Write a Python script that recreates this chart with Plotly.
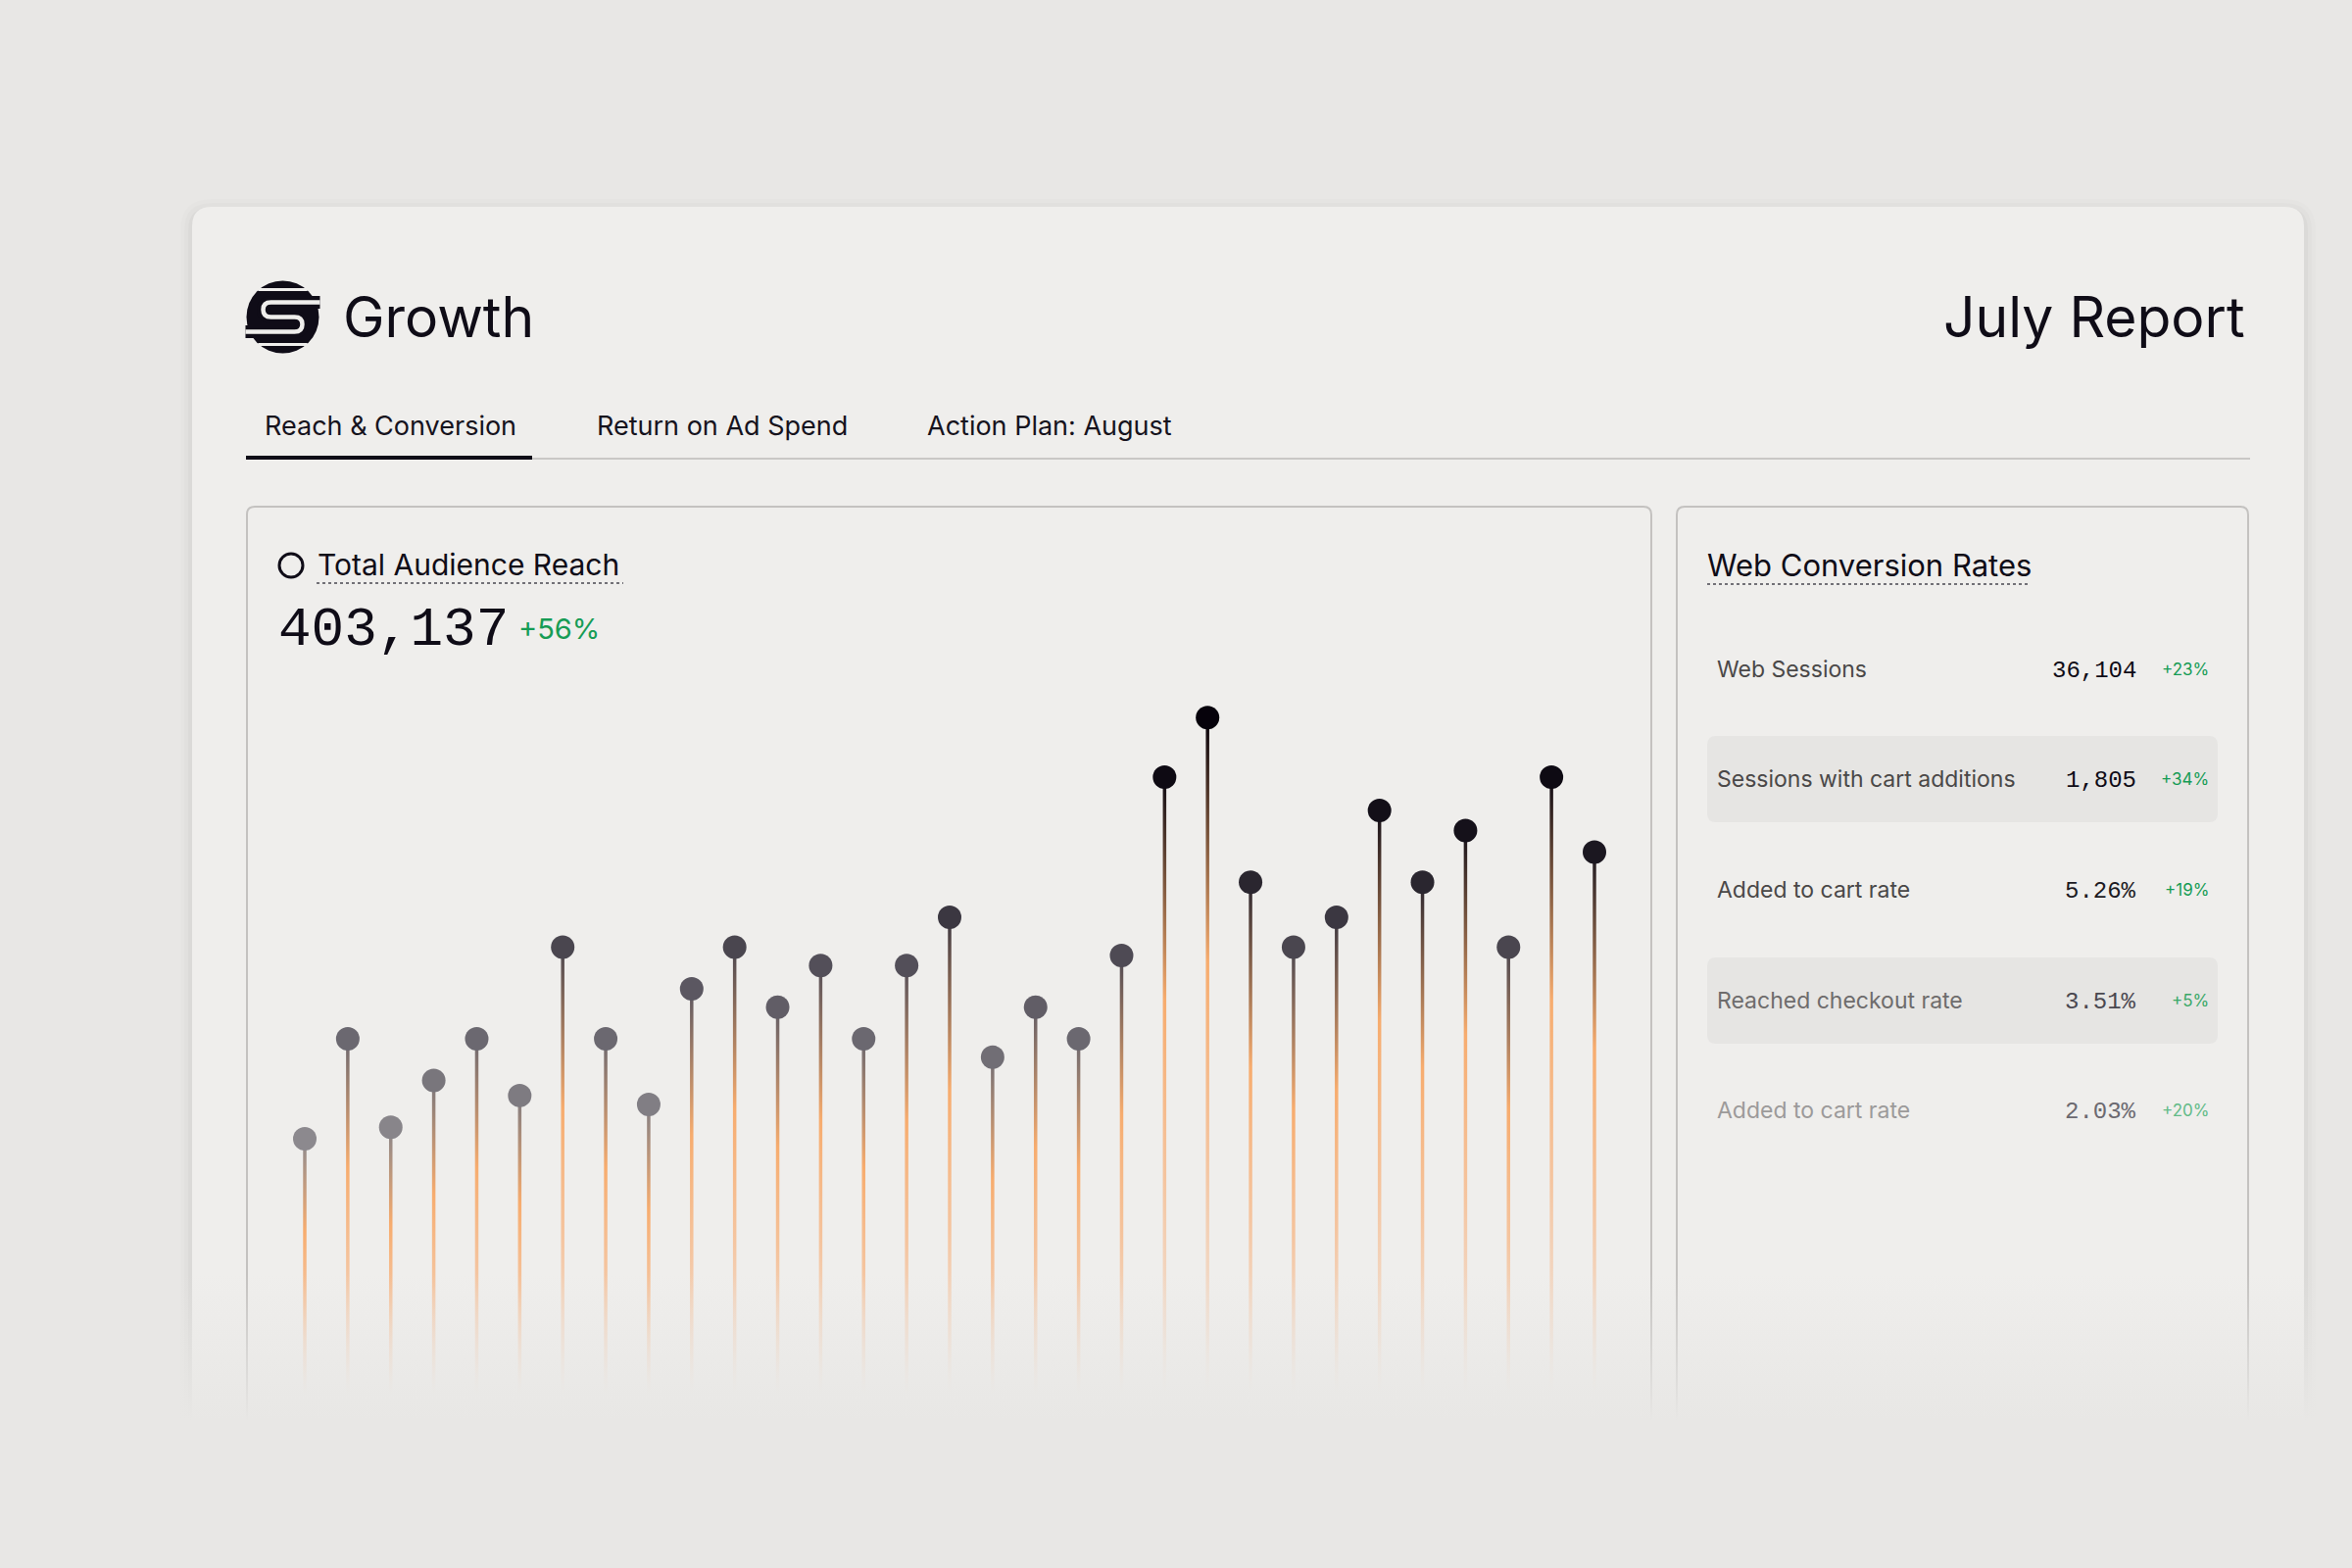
import plotly.graph_objects as go
from plotly.colors import sample_colorscale

W, H = 2400, 1600

# daily audience reach for July
days = list(range(1, 32))
reach = [7700, 10700, 8050, 9450, 10700, 9000, 13450, 10700, 8730, 12200,
         13450, 11650, 12900, 10700, 12900, 14350, 10150, 11650, 10700, 13200,
         18550, 20340, 15400, 13450, 14350, 17550, 15400, 16950, 13450, 18550,
         16300]

total_reach = "403,137"
total_delta = "+56%"

tabs = ["Reach & Conversion", "Return on Ad Spend", "Action Plan: August"]

metric_labels = ["Web Sessions", "Sessions with cart additions", "Added to cart rate",
                 "Reached checkout rate", "Added to cart rate"]
metric_values = ["36,104", "1,805", "5.26%", "3.51%", "2.03%"]
metric_deltas = ["+23%", "+34%", "+19%", "+5%", "+20%"]

# colours / fonts
BG = "#e8e7e5"
CARD = "#efeeec"
INK = "#0f0c17"
GREEN = "#169c55"
SANS = "Inter"
MONO = "Liberation Mono"
DOT_SCALE = [[0, "rgb(140,137,142)"], [0.4, "rgb(85,81,91)"],
             [0.7, "rgb(23,19,28)"], [1, "rgb(6,2,11)"]]


def px(x):
    return x / W


def py(y):
    return 1 - y / H


def pt(x, y):
    return f"{px(x):.5f},{py(y):.5f}"


def round_rect(x0, y0, x1, y1, r):
    return (f"M {pt(x0 + r, y0)} L {pt(x1 - r, y0)} Q {pt(x1, y0)} {pt(x1, y0 + r)} "
            f"L {pt(x1, y1 - r)} Q {pt(x1, y1)} {pt(x1 - r, y1)} "
            f"L {pt(x0 + r, y1)} Q {pt(x0, y1)} {pt(x0, y1 - r)} "
            f"L {pt(x0, y0 + r)} Q {pt(x0, y0)} {pt(x0 + r, y0)} Z")


shapes = []
annotations = []


def label(x, y, text, size, color=INK, anchor="left", family=SANS, weight=400):
    annotations.append(dict(
        x=px(x), y=py(y), xref="paper", yref="paper", text=text, showarrow=False,
        xanchor=anchor, yanchor="middle",
        font=dict(family=family, size=size, color=color, weight=weight)))


def hline(x0, x1, y, color, width, dash="solid"):
    shapes.append(dict(type="line", xref="paper", yref="paper",
                       x0=px(x0), x1=px(x1), y0=py(y), y1=py(y),
                       line=dict(color=color, width=width, dash=dash)))


# card with a soft shadow
for grow, alpha in [(12, 0.012), (8, 0.016), (4, 0.022)]:
    shapes.append(dict(type="path", xref="paper", yref="paper", layer="below",
                       path=round_rect(196 - grow, 211 - grow + 4, 2351 + grow, 1600, 20 + grow),
                       fillcolor=f"rgba(0,0,0,{alpha})", line=dict(width=0)))
shapes.append(dict(type="path", xref="paper", yref="paper", layer="below",
                   path=round_rect(196, 211, 2351, 1600, 20),
                   fillcolor=CARD, line=dict(width=0)))

# logo: dark disc cut by light stripes and an S channel
cx, cy, R = 288.5, 323.5, 37
shapes.append(dict(type="circle", xref="paper", yref="paper",
                   x0=px(cx - R), x1=px(cx + R), y0=py(cy + R), y1=py(cy - R),
                   fillcolor=INK, line=dict(width=0)))
for dy in (-28, 28):
    hw = (R ** 2 - dy ** 2) ** 0.5
    hline(cx - hw - 1, cx + hw + 1, cy + dy, CARD, 3)
s_path = (f"M {pt(cx + 38, cy - 15)} L {pt(cx - 12, cy - 15)} "
          f"Q {pt(cx - 20, cy - 15)} {pt(cx - 20, cy - 7.5)} Q {pt(cx - 20, cy)} {pt(cx - 12, cy)} "
          f"L {pt(cx + 12, cy)} "
          f"Q {pt(cx + 20, cy)} {pt(cx + 20, cy + 7.5)} Q {pt(cx + 20, cy + 15)} {pt(cx + 12, cy + 15)} "
          f"L {pt(cx - 38, cy + 15)}")
shapes.append(dict(type="path", xref="paper", yref="paper", path=s_path,
                   line=dict(color=INK, width=13)))
shapes.append(dict(type="path", xref="paper", yref="paper", path=s_path,
                   line=dict(color=CARD, width=4.5)))

label(348, 323, "Growth", 57)
label(2293, 323, "July Report", 57, anchor="right")

# tabs
for tx, t in zip([268, 607, 944], tabs):
    label(tx, 434, t, 27, color="#16131d")
hline(251, 2296, 468, "#c9c7c5", 2)
hline(251, 543, 467, INK, 4)

# panels
shapes.append(dict(type="path", xref="paper", yref="paper", layer="below",
                   path=round_rect(252, 517, 1685, 1560, 8),
                   fillcolor=CARD, line=dict(color="#c4c2c0", width=2)))
shapes.append(dict(type="path", xref="paper", yref="paper", layer="below",
                   path=round_rect(1711, 517, 2294, 1560, 8),
                   fillcolor=CARD, line=dict(color="#c4c2c0", width=2)))

# left panel header
shapes.append(dict(type="circle", xref="paper", yref="paper",
                   x0=px(297 - 12), x1=px(297 + 12), y0=py(577 + 12), y1=py(577 - 12),
                   line=dict(color=INK, width=3)))
label(322, 576, "Total Audience Reach", 30)
hline(323, 636, 595, "#4a4850", 1.5, "dot")
label(282, 643, total_reach, 56, family=MONO)
label(527, 641, total_delta, 29, color=GREEN)

# right panel
label(1740, 576, "Web Conversion Rates", 31)
hline(1742, 2069, 596, "#4a4850", 1.5, "dot")
row_y = [683, 795, 908, 1021, 1133]
for i in (1, 3):
    shapes.append(dict(type="path", xref="paper", yref="paper", layer="below",
                       path=round_rect(1742, row_y[i] - 44, 2263, row_y[i] + 44, 9),
                       fillcolor="#e6e5e3", line=dict(width=0)))
lab_col = ["#4a4848", "#4a4848", "#4a4848", "#6e6c6c", "#9c9a9a"]
val_col = [INK, INK, "#1c1a22", "#4a4850", "#6b6970"]
pct_col = [GREEN, GREEN, GREEN, "#3aa868", "#62bb88"]
for i in range(len(metric_labels)):
    label(1750, row_y[i], metric_labels[i], 23, color=lab_col[i])
    label(2182, row_y[i] + 1.5, metric_values[i], 24, color=val_col[i], anchor="right", family=MONO)
    label(2256, row_y[i], metric_deltas[i], 17, color=pct_col[i], anchor="right")

# lollipop chart
fig = go.Figure()
lo, hi = min(reach), max(reach)
STEM_HALF = 0.04
for d, v in zip(days, reach):
    top = sample_colorscale(DOT_SCALE, [(v - lo) / (hi - lo)])[0]
    fig.add_trace(go.Scatter(
        x=[d - STEM_HALF, d + STEM_HALF, d + STEM_HALF, d - STEM_HALF],
        y=[0, 0, v, v], fill="toself", mode="none", hoverinfo="skip",
        fillgradient=dict(type="vertical", start=0, stop=v, colorscale=[
            [0, "rgba(244,196,160,0)"], [0.1, "rgba(244,194,158,0.35)"],
            [0.35, "rgba(246,186,140,0.8)"], [0.64, "rgba(247,172,110,1)"],
            [1, top]])))
fig.add_trace(go.Scatter(
    x=days, y=reach, mode="markers",
    marker=dict(size=24, color=reach, colorscale=DOT_SCALE, cmin=lo, cmax=hi,
                line=dict(width=0)),
    hovertemplate="July %{x}: %{y:,}<extra></extra>"))

# fade the bottom of the card into the page
FADE_H = 300
fig.add_trace(go.Scatter(
    x=[0, W, W, 0], y=[0, 0, FADE_H, FADE_H], xaxis="x2", yaxis="y2",
    fill="toself", mode="none", hoverinfo="skip",
    fillgradient=dict(type="vertical", start=0, stop=FADE_H, colorscale=[
        [0, "rgba(232,231,229,1)"], [0.5, "rgba(232,231,229,1)"],
        [1, "rgba(232,231,229,0)"]])))

step = (1627 - 311) / 30
fig.update_layout(
    width=W, height=H, margin=dict(l=0, r=0, t=0, b=0),
    paper_bgcolor=BG, plot_bgcolor="rgba(0,0,0,0)", showlegend=False,
    xaxis=dict(domain=[px(252), px(1685)],
               range=[1 - (311 - 252) / step, 31 + (1685 - 1627) / step],
               visible=False, fixedrange=True),
    yaxis=dict(domain=[py(1424), py(700)], range=[0, (1424 - 700) * 29.4],
               visible=False, fixedrange=True),
    xaxis2=dict(domain=[0, 1], range=[0, W], visible=False, anchor="y2", fixedrange=True),
    yaxis2=dict(domain=[0, 1], range=[0, H], visible=False, anchor="x2", fixedrange=True),
    shapes=shapes, annotations=annotations,
)

# drop the browser's default page margin so the figure fills the window
fig.write_html("out.html", config={"displayModeBar": False},
               post_script="document.body.style.margin = '0';")
